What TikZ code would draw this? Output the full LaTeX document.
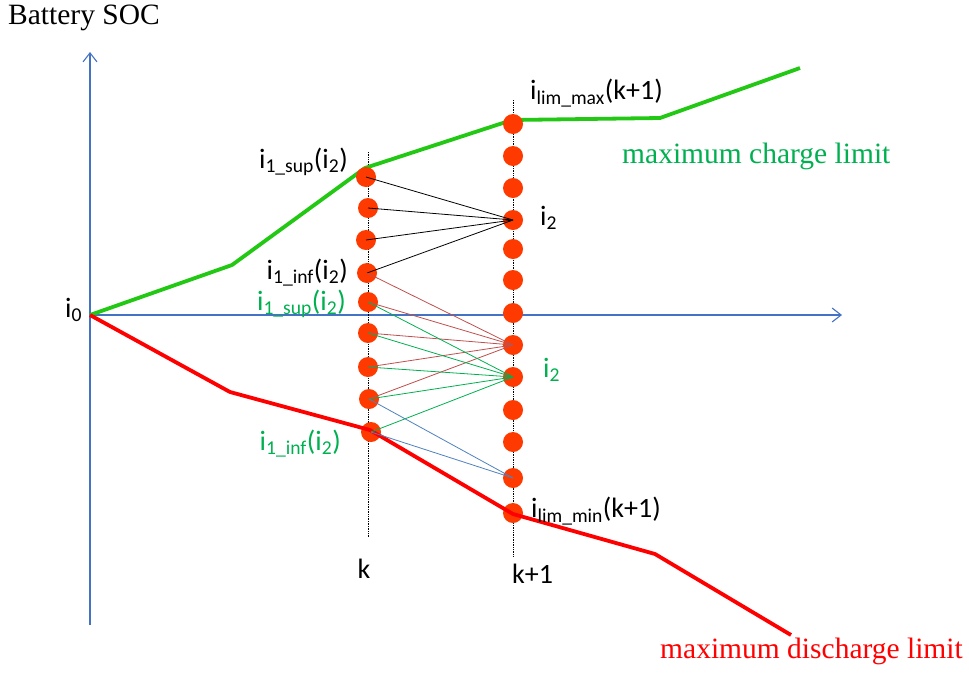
\documentclass[tikz,border=0pt]{standalone}
\usepackage{fontspec}
\setmainfont{Carlito}
\newfontfamily\timesf{Liberation Serif}
\usetikzlibrary{arrows.meta}
\definecolor{axisblue}{RGB}{68,114,196}
\definecolor{limgreen}{RGB}{34,200,20}
\definecolor{txtgreen}{RGB}{0,176,80}
\definecolor{dotred}{RGB}{255,58,0}
\definecolor{linkbrown}{RGB}{192,80,77}
\definecolor{linkblue}{RGB}{79,129,189}
\newcommand{\isub}[2]{i\textsubscript{#1}(#2)}

\begin{document}
\begin{tikzpicture}[x=1pt,y=-1pt,
    axis/.style={draw=axisblue,line width=1.1pt,-{Straight Barb[length=9pt,width=14pt]}},
    limit/.style={line width=3.8pt,line join=round},
    col/.style={densely dotted,line width=0.7pt},
    ball/.style={circle,fill=dotred,minimum size=20pt,inner sep=0pt},
    link/.style={line width=0.8pt},
    lbl/.style={font=\fontsize{28}{32}\selectfont,inner sep=0pt},
    ttl/.style={font=\timesf\fontsize{29.5}{34}\selectfont,inner sep=0pt}]
  \useasboundingbox (0,0) rectangle (969,673);
  \coordinate (O) at (90,315);
  \draw[axis] (90,625) -- (90,52);
  \draw[axis] (O) -- (842,315);
  \draw[col] (368,152) -- (368,537);
  \draw[col] (513,100) -- (513,557);
  \draw[limit,limgreen] (O) -- (232,265) -- (365,168) -- (512,120) -- (660,118) -- (800,68);
  \foreach \x/\y [count=\i] in {366/177,368/208,366/240,367/273,368/302,368/333,368/367,369/399,371/432}
    \node[ball] (k\i) at (\x,\y) {};
  \foreach \y [count=\i] in {124,156,188,220,249,280,313,345,377,410,442,478,513}
    \node[ball] (n\i) at (513,\y) {};
  \draw[limit,red] (O) -- (230,392) -- (370,430) -- (513,514) -- (655,554) -- (791,635);
  \foreach \i in {1,...,4} \draw[link,black] (k\i.center) -- (n4.center);
  \foreach \i in {4,...,8} \draw[link,linkbrown] (k\i.center) -- (n8.center);
  \foreach \i in {5,...,9} \draw[link,txtgreen] (k\i.center) -- (n9.center);
  \foreach \i in {8,9} \draw[link,linkblue] (k\i.center) -- (n12.center);
  \node[ttl,anchor=base west] (soc) at (8,24) {Battery SOC};
  \node[ttl,anchor=base west,txtgreen] (chg) at (622,163) {maximum charge limit};
  \node[ttl,anchor=base west,red] (dis) at (660,658) {maximum discharge limit};
  \node[lbl,anchor=base west] (i0) at (65,317) {i\textsubscript{0}};
  \node[lbl,anchor=base west] (lmax) at (530,99) {\isub{lim\_max}{k+1}};
  \node[lbl,anchor=base west] (lmin) at (531,517) {\isub{lim\_min}{k+1}};
  \node[lbl,anchor=base east] (sup1) at (348,168) {\isub{1\_sup}{i\textsubscript{2}}};
  \node[lbl,anchor=base east] (inf1) at (348,279) {\isub{1\_inf}{i\textsubscript{2}}};
  \node[lbl,anchor=base east,txtgreen] (sup2) at (346,310) {\isub{1\_sup}{i\textsubscript{2}}};
  \node[lbl,anchor=base east,txtgreen] (inf2) at (341,450) {\isub{1\_inf}{i\textsubscript{2}}};
  \node[lbl,anchor=base west] (tb) at (540,225) {i\textsubscript{2}};
  \node[lbl,anchor=base west,txtgreen] (tg) at (543,377) {i\textsubscript{2}};
  \node[lbl,anchor=base] (tk) at (364,578) {k};
  \node[lbl,anchor=base west] (tk1) at (512,583) {k+1};
\end{tikzpicture}
\end{document}
